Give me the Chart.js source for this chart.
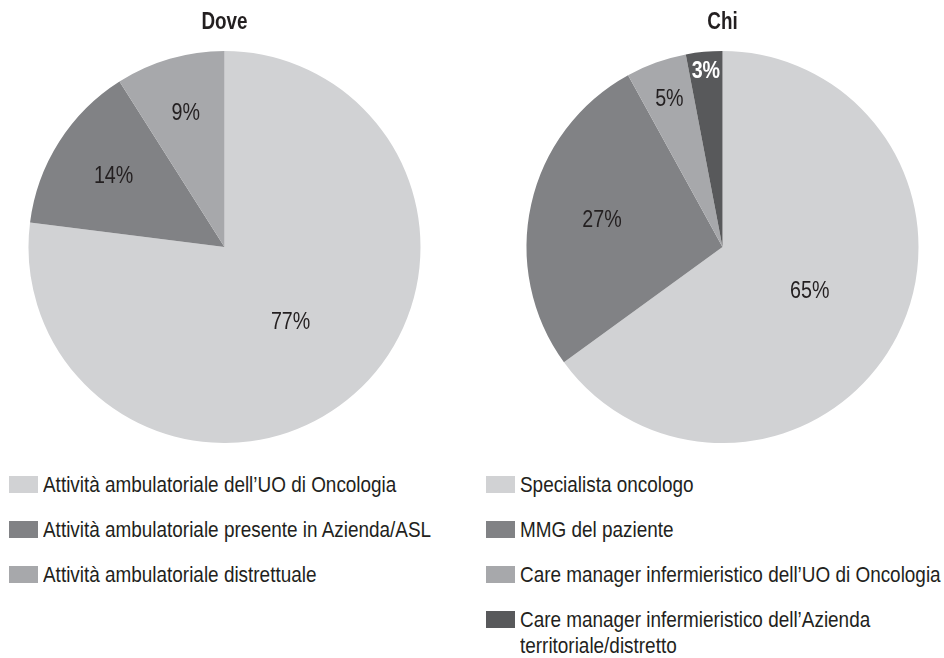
<!DOCTYPE html>
<html>
<head>
<meta charset="utf-8">
<script src="https://cdn.jsdelivr.net/npm/chart.js@4"></script>
<style>
  body { margin: 0; background: #fff; width: 944px; height: 658px; position: relative; overflow: hidden;
         font-family: 'Liberation Sans', Arial, sans-serif; color: #231f20; }
  .box { position: absolute; top: 0; width: 449px; height: 443px; }
  .legend { position: absolute; top: 472px; margin: 0; padding: 0; list-style: none; font-size: 22px; }
  .legend li { display: flex; align-items: flex-start; margin-bottom: 19px; line-height: 26px; }
  .legend .sw { flex: none; width: 29px; height: 17px; margin: 4px 5px 0 0; }
  .legend .tx { display: block; transform: scaleX(0.86); transform-origin: 0 0; }
</style>
</head>
<body>
<div class="box" style="left:0"><canvas id="doveChart"></canvas></div>
<div class="box" style="left:498px"><canvas id="chiChart"></canvas></div>
<ul class="legend" id="doveLegend" style="left:9px"></ul>
<ul class="legend" id="chiLegend" style="left:486px"></ul>
<script>
// Dati
const doveLabels = ['Attività ambulatoriale dell\u2019UO di Oncologia', 'Attività ambulatoriale presente in Azienda/ASL', 'Attività ambulatoriale distrettuale'];
const doveValues = [77, 14, 9];
const chiLabels = ['Specialista oncologo', 'MMG del paziente', 'Care manager infermieristico dell\u2019UO di Oncologia', 'Care manager infermieristico dell\u2019Azienda territoriale/distretto'];
const chiValues = [65, 27, 5, 3];

const grigi = ['#d1d2d4', '#818285', '#a7a8ab', '#58595b'];
const FONT = "'Liberation Sans', Arial, sans-serif";
const STRETTO = 0.82; // simula un carattere condensed

Chart.defaults.font.family = FONT;
Chart.defaults.color = '#231f20';

function testoStretto(ctx, txt, x, y, font, color) {
    ctx.save();
    ctx.font = font;
    ctx.fillStyle = color;
    ctx.textAlign = 'center';
    ctx.textBaseline = 'middle';
    ctx.translate(x, y);
    ctx.scale(STRETTO, 1);
    ctx.fillText(txt, 0, 0);
    ctx.restore();
}

// titolo + percentuali dentro le fette
const etichette = {
    id: 'etichette',
    afterDatasetsDraw(chart, args, opts) {
        const ctx = chart.ctx;
        const meta = chart.getDatasetMeta(0);
        const values = chart.data.datasets[0].data;
        meta.data.forEach((arc, i) => {
            const p = arc.getProps(['x', 'y', 'startAngle', 'endAngle', 'outerRadius'], true);
            const mid = (p.startAngle + p.endAngle) / 2;
            const r = p.outerRadius * opts.dist[i];
            const font = (opts.bold[i] ? 'bold ' : '') + '24px ' + FONT;
            testoStretto(ctx, values[i] + '%', p.x + Math.cos(mid) * r, p.y + Math.sin(mid) * r, font, opts.colors[i]);
        });
        const ca = chart.chartArea;
        testoStretto(ctx, opts.titolo, (ca.left + ca.right) / 2, 23, 'bold 23px ' + FONT, '#231f20');
    }
};

function torta(id, labels, values, labelOpts) {
    return new Chart(document.getElementById(id), {
        type: 'pie',
        data: {
            labels: labels,
            datasets: [{
                data: values,
                backgroundColor: grigi.slice(0, values.length),
                borderWidth: 0,
                hoverOffset: 0
            }]
        },
        options: {
            responsive: true,
            maintainAspectRatio: false,
            animation: false,
            layout: { padding: { top: 51 } },
            plugins: {
                legend: { display: false },
                tooltip: { enabled: false },
                etichette: labelOpts
            }
        },
        plugins: [etichette]
    });
}

function legendaHtml(chart, ulId, larghezza) {
    const ul = document.getElementById(ulId);
    const items = Chart.overrides.pie.plugins.legend.labels.generateLabels(chart);
    items.forEach(item => {
        const li = document.createElement('li');
        const sw = document.createElement('span');
        sw.className = 'sw';
        sw.style.background = item.fillStyle;
        const t = document.createElement('span');
        t.className = 'tx';
        t.style.width = larghezza + 'px';
        t.textContent = item.text;
        li.appendChild(sw);
        li.appendChild(t);
        ul.appendChild(li);
    });
}

const doveChart = torta('doveChart', doveLabels, doveValues, {
    titolo: 'Dove',
    dist: [0.51, 0.67, 0.71],
    colors: ['#231f20', '#231f20', '#231f20'],
    bold: [false, false, false]
});
const chiChart = torta('chiChart', chiLabels, chiValues, {
    titolo: 'Chi',
    dist: [0.5, 0.63, 0.8, 0.9],
    colors: ['#231f20', '#231f20', '#231f20', '#ffffff'],
    bold: [false, false, false, true]
});

legendaHtml(doveChart, 'doveLegend', 560);
legendaHtml(chiChart, 'chiLegend', 540);
</script>
</body>
</html>
